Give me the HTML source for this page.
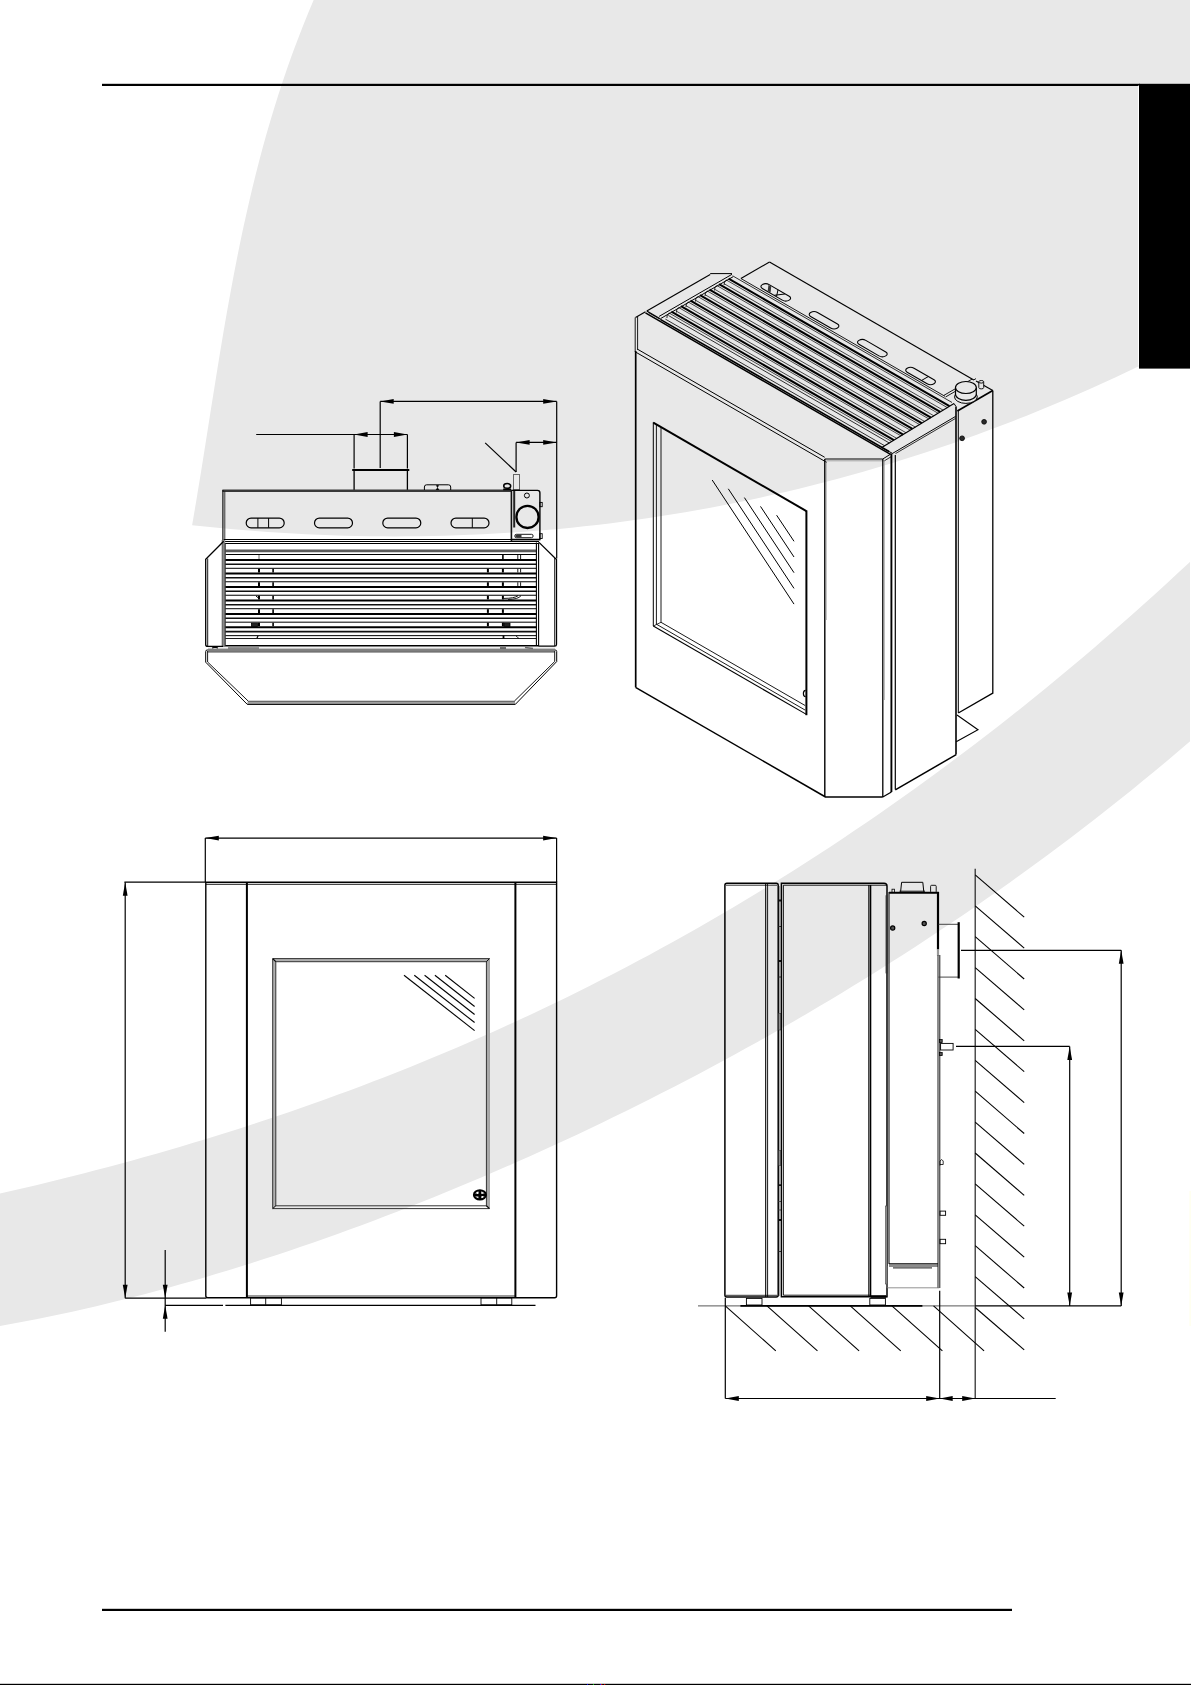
<!DOCTYPE html>
<html><head><meta charset="utf-8"><title>drawing</title>
<style>html,body{margin:0;padding:0;background:#fff;font-family:"Liberation Sans",sans-serif}svg{display:block}</style>
</head><body>
<svg width="1191" height="1685" viewBox="0 0 1191 1685">
<path d="M313.65 0 L307.99 13.46 L302.57 26.92 L297.35 40.38 L292.35 53.85 L287.56 67.31 L282.95 80.77 L278.54 94.23 L274.3 107.69 L270.24 121.15 L266.34 134.62 L262.6 148.08 L259.02 161.54 L255.57 175 L252.26 188.46 L249.08 201.92 L246.02 215.38 L243.08 228.85 L240.24 242.31 L237.5 255.77 L234.86 269.23 L232.29 282.69 L229.81 296.15 L227.39 309.62 L225.03 323.08 L222.73 336.54 L220.48 350 L218.27 363.46 L216.09 376.92 L213.94 390.38 L211.8 403.85 L209.67 417.31 L207.55 430.77 L205.42 444.23 L203.28 457.69 L201.13 471.15 L198.94 484.62 L196.72 498.08 L194.46 511.54 L192.16 525 L192.16 525.2 L204.8 526.52 L217.44 527.76 L230.09 528.92 L242.73 530 L255.37 531 L268.02 531.91 L280.66 532.74 L293.31 533.49 L305.95 534.15 L318.59 534.73 L331.24 535.22 L343.88 535.63 L356.52 535.94 L369.17 536.18 L381.81 536.32 L394.45 536.38 L407.1 536.35 L419.74 536.23 L432.38 536.02 L445.03 535.72 L457.67 535.33 L470.32 534.85 L482.96 534.27 L495.6 533.61 L508.25 532.85 L520.89 532 L533.53 531.05 L546.18 530.01 L558.82 528.88 L571.46 527.65 L584.11 526.33 L596.75 524.91 L609.39 523.39 L622.04 521.78 L634.68 520.06 L647.33 518.25 L659.97 516.34 L672.61 514.33 L685.26 512.22 L697.9 510.01 L710.54 507.7 L723.19 505.29 L735.83 502.78 L748.47 500.16 L761.12 497.44 L773.76 494.62 L786.41 491.7 L799.05 488.66 L811.69 485.53 L824.34 482.29 L836.98 478.94 L849.62 475.49 L862.27 471.92 L874.91 468.26 L887.55 464.48 L900.2 460.59 L912.84 456.6 L925.48 452.49 L938.13 448.28 L950.77 443.95 L963.42 439.52 L976.06 434.97 L988.7 430.31 L1001.35 425.53 L1013.99 420.65 L1026.63 415.65 L1039.28 410.53 L1051.92 405.3 L1064.56 399.96 L1077.21 394.5 L1089.85 388.92 L1102.49 383.22 L1115.14 377.41 L1127.78 371.48 L1140.43 365.44 L1153.07 359.27 L1165.71 352.98 L1178.36 346.57 L1191 340.05 L1191 0 Z" fill="#e8e8e8" stroke="none" stroke-width="0" stroke-linejoin="miter"/>
<path d="M0 1193.54 L12.03 1190.79 L24.06 1188 L36.09 1185.15 L48.12 1182.25 L60.15 1179.29 L72.18 1176.29 L84.21 1173.23 L96.24 1170.11 L108.27 1166.94 L120.3 1163.71 L132.33 1160.43 L144.36 1157.08 L156.39 1153.68 L168.42 1150.22 L180.45 1146.7 L192.48 1143.12 L204.52 1139.47 L216.55 1135.77 L228.58 1132 L240.61 1128.17 L252.64 1124.27 L264.67 1120.31 L276.7 1116.28 L288.73 1112.18 L300.76 1108.02 L312.79 1103.79 L324.82 1099.49 L336.85 1095.12 L348.88 1090.68 L360.91 1086.17 L372.94 1081.59 L384.97 1076.93 L397 1072.2 L409.03 1067.4 L421.06 1062.52 L433.09 1057.57 L445.12 1052.54 L457.15 1047.43 L469.18 1042.25 L481.21 1036.99 L493.24 1031.64 L505.27 1026.22 L517.3 1020.72 L529.33 1015.13 L541.36 1009.47 L553.39 1003.72 L565.42 997.88 L577.45 991.97 L589.48 985.96 L601.52 979.87 L613.55 973.7 L625.58 967.44 L637.61 961.08 L649.64 954.64 L661.67 948.11 L673.7 941.49 L685.73 934.78 L697.76 927.98 L709.79 921.09 L721.82 914.1 L733.85 907.01 L745.88 899.84 L757.91 892.56 L769.94 885.19 L781.97 877.73 L794 870.16 L806.03 862.5 L818.06 854.74 L830.09 846.88 L842.12 838.92 L854.15 830.85 L866.18 822.69 L878.21 814.42 L890.24 806.05 L902.27 797.57 L914.3 788.99 L926.33 780.3 L938.36 771.51 L950.39 762.61 L962.42 753.6 L974.45 744.48 L986.48 735.25 L998.52 725.91 L1010.55 716.46 L1022.58 706.9 L1034.61 697.23 L1046.64 687.44 L1058.67 677.54 L1070.7 667.53 L1082.73 657.4 L1094.76 647.15 L1106.79 636.79 L1118.82 626.31 L1130.85 615.71 L1142.88 604.99 L1154.91 594.15 L1166.94 583.19 L1178.97 572.11 L1191 560.91 L1191 740.6 L1178.97 750.86 L1166.94 760.99 L1154.91 770.99 L1142.88 780.87 L1130.85 790.63 L1118.82 800.27 L1106.79 809.79 L1094.76 819.19 L1082.73 828.47 L1070.7 837.65 L1058.67 846.71 L1046.64 855.66 L1034.61 864.51 L1022.58 873.24 L1010.55 881.88 L998.52 890.41 L986.48 898.84 L974.45 907.17 L962.42 915.41 L950.39 923.54 L938.36 931.58 L926.33 939.53 L914.3 947.39 L902.27 955.15 L890.24 962.83 L878.21 970.42 L866.18 977.91 L854.15 985.33 L842.12 992.66 L830.09 999.9 L818.06 1007.07 L806.03 1014.15 L794 1021.15 L781.97 1028.07 L769.94 1034.92 L757.91 1041.68 L745.88 1048.37 L733.85 1054.98 L721.82 1061.52 L709.79 1067.99 L697.76 1074.38 L685.73 1080.7 L673.7 1086.94 L661.67 1093.12 L649.64 1099.22 L637.61 1105.26 L625.58 1111.22 L613.55 1117.11 L601.52 1122.94 L589.48 1128.7 L577.45 1134.39 L565.42 1140.01 L553.39 1145.56 L541.36 1151.05 L529.33 1156.47 L517.3 1161.82 L505.27 1167.11 L493.24 1172.33 L481.21 1177.48 L469.18 1182.57 L457.15 1187.6 L445.12 1192.55 L433.09 1197.44 L421.06 1202.26 L409.03 1207.02 L397 1211.71 L384.97 1216.34 L372.94 1220.89 L360.91 1225.38 L348.88 1229.8 L336.85 1234.16 L324.82 1238.44 L312.79 1242.66 L300.76 1246.81 L288.73 1250.89 L276.7 1254.9 L264.67 1258.83 L252.64 1262.7 L240.61 1266.49 L228.58 1270.22 L216.55 1273.87 L204.52 1277.44 L192.48 1280.94 L180.45 1284.37 L168.42 1287.71 L156.39 1290.99 L144.36 1294.18 L132.33 1297.29 L120.3 1300.33 L108.27 1303.28 L96.24 1306.15 L84.21 1308.94 L72.18 1311.64 L60.15 1314.26 L48.12 1316.79 L36.09 1319.24 L24.06 1321.59 L12.03 1323.86 L0 1326.03 Z" fill="#e8e8e8" stroke="none" stroke-width="0" stroke-linejoin="miter"/>
<rect x="1190" y="0" width="1" height="1685" fill="#fff"/>
<rect x="1189.6" y="1191" width="1" height="135" fill="#ffffe6"/>
<rect x="102" y="83.8" width="1038" height="2.2" fill="#000"/>
<rect x="102" y="1608.8" width="910" height="2.2" fill="#000"/>
<rect x="1138" y="85.6" width="1.2" height="280" fill="#fff"/>
<rect x="1139" y="83.8" width="51" height="284.8" fill="#000"/>
<rect x="0" y="1683.8" width="1191" height="1.2" fill="#000"/>
<rect x="587" y="1684" width="1" height="1" fill="#00f"/>
<rect x="593" y="1684" width="1" height="1" fill="#0b0"/>
<rect x="600" y="1684" width="1" height="1" fill="#00f"/>
<rect x="601.2" y="1684" width="1" height="1" fill="#e00"/>
<rect x="604.2" y="1684" width="1" height="1" fill="#e00"/>
<line x1="380.2" y1="401.4" x2="556.7" y2="401.4" stroke="#000" stroke-width="1.2"/>
<path d="M380.2 401.4 L393.7 403.8 L393.7 399 Z" fill="#000"/>
<path d="M556.7 401.4 L543.2 399 L543.2 403.8 Z" fill="#000"/>
<line x1="380.2" y1="401.4" x2="380.2" y2="468" stroke="#000" stroke-width="1.2"/>
<line x1="556.7" y1="401.4" x2="556.7" y2="558.5" stroke="#000" stroke-width="1.2"/>
<line x1="256.2" y1="434.5" x2="407.4" y2="434.5" stroke="#000" stroke-width="1.2"/>
<path d="M354.1 434.5 L367.6 436.9 L367.6 432.1 Z" fill="#000"/>
<path d="M407.4 434.5 L393.9 432.1 L393.9 436.9 Z" fill="#000"/>
<line x1="354.1" y1="434.5" x2="354.1" y2="468.5" stroke="#000" stroke-width="1.2"/>
<line x1="407.4" y1="434.5" x2="407.4" y2="468.5" stroke="#000" stroke-width="1.2"/>
<line x1="516.1" y1="442.4" x2="556.7" y2="442.4" stroke="#000" stroke-width="1.2"/>
<path d="M516.1 442.4 L529.6 444.8 L529.6 440 Z" fill="#000"/>
<path d="M556.7 442.4 L543.2 440 L543.2 444.8 Z" fill="#000"/>
<line x1="516.1" y1="442.4" x2="516.1" y2="472" stroke="#000" stroke-width="1.2"/>
<line x1="485.2" y1="442.9" x2="516.1" y2="472" stroke="#000" stroke-width="1.2"/>
<line x1="352.2" y1="470" x2="409.3" y2="470" stroke="#000" stroke-width="2.2"/>
<line x1="354.1" y1="470" x2="354.1" y2="490" stroke="#000" stroke-width="1.3"/>
<line x1="407.4" y1="470" x2="407.4" y2="490" stroke="#000" stroke-width="1.3"/>
<line x1="222.4" y1="490.7" x2="511" y2="490.7" stroke="#383838" stroke-width="2.6"/>
<line x1="222.9" y1="490" x2="222.9" y2="540" stroke="#111" stroke-width="1.2"/>
<line x1="224.8" y1="491" x2="224.8" y2="540" stroke="#222" stroke-width="0.9"/>
<path d="M424.4 490 V487 Q424.4 484.8 426.6 484.8 H448.5 Q450.7 484.8 450.7 487 V490" fill="none" stroke="#000" stroke-width="1.0"/>
<path d="M436.6 485.5 L438.4 485.5 L437.5 487.5 Z M436 490 L437.5 488 L439 490" fill="#000" stroke="#000" stroke-width="0.8"/>
<ellipse cx="507.2" cy="485.9" rx="3.5" ry="2.3" fill="none" stroke="#000" stroke-width="1.5"/>
<line x1="503.2" y1="489.4" x2="511" y2="489.4" stroke="#000" stroke-width="1.8"/>
<rect x="513.4" y="474.6" width="6.2" height="15" rx="0" fill="none" stroke="#444" stroke-width="0.8"/>
<path d="M512 490.4 H537.5 Q539.9 490.4 539.9 492.8 V539.5 H512" fill="none" stroke="#000" stroke-width="1.4"/>
<line x1="511.4" y1="489.6" x2="511.4" y2="541" stroke="#111" stroke-width="1.6"/>
<line x1="514.2" y1="491" x2="514.2" y2="527.5" stroke="#222" stroke-width="2.0"/>
<circle cx="527.5" cy="516.9" r="11.1" fill="none" stroke="#000" stroke-width="2.3"/>
<circle cx="526.9" cy="495.5" r="2.5" fill="none" stroke="#000" stroke-width="1.0"/>
<rect x="539.9" y="502.4" width="2.3" height="4.3" rx="0" fill="none" stroke="#000" stroke-width="0.9"/>
<rect x="539.9" y="533.7" width="2.3" height="4.8" rx="0" fill="none" stroke="#000" stroke-width="0.9"/>
<rect x="514.8" y="534.3" width="18.3" height="3.4" rx="1.6" fill="none" stroke="#000" stroke-width="0.9"/>
<rect x="515.5" y="534.8" width="6" height="2.4" rx="0" fill="#333" stroke="none" stroke-width="0"/>
<line x1="512" y1="539.6" x2="540" y2="539.6" stroke="#000" stroke-width="1.2"/>
<rect x="246.2" y="518.1" width="38" height="9.7" rx="4.85" fill="none" stroke="#000" stroke-width="1.2"/>
<rect x="314.5" y="518.1" width="38" height="9.7" rx="4.85" fill="none" stroke="#000" stroke-width="1.2"/>
<rect x="382.8" y="518.1" width="38" height="9.7" rx="4.85" fill="none" stroke="#000" stroke-width="1.2"/>
<rect x="451" y="518.1" width="38" height="9.7" rx="4.85" fill="none" stroke="#000" stroke-width="1.2"/>
<line x1="257.9" y1="518.1" x2="257.9" y2="527.8" stroke="#000" stroke-width="1.0"/>
<line x1="268.6" y1="518.1" x2="268.6" y2="527.8" stroke="#000" stroke-width="1.0"/>
<line x1="472.3" y1="518.1" x2="472.3" y2="527.8" stroke="#000" stroke-width="1.0"/>
<line x1="223.7" y1="539.5" x2="539" y2="539.5" stroke="#000" stroke-width="1.0"/>
<line x1="223.7" y1="541.5" x2="539" y2="541.5" stroke="#000" stroke-width="1.0"/>
<line x1="223.7" y1="543.5" x2="539" y2="543.5" stroke="#000" stroke-width="1.0"/>
<line x1="225.5" y1="550.8" x2="536" y2="550.8" stroke="#595959" stroke-width="2.7"/>
<line x1="225.5" y1="554.5" x2="536" y2="554.5" stroke="#000" stroke-width="1.0"/>
<line x1="225.2" y1="560" x2="536.4" y2="560" stroke="#000" stroke-width="2.0"/>
<line x1="225.2" y1="564.3" x2="536.4" y2="564.3" stroke="#111" stroke-width="1.6"/>
<line x1="225.2" y1="568.3" x2="536.4" y2="568.3" stroke="#000" stroke-width="1.0"/>
<line x1="225.2" y1="573.47" x2="536.4" y2="573.47" stroke="#000" stroke-width="2.0"/>
<line x1="225.2" y1="577.77" x2="536.4" y2="577.77" stroke="#111" stroke-width="1.6"/>
<line x1="225.2" y1="581.77" x2="536.4" y2="581.77" stroke="#000" stroke-width="1.0"/>
<line x1="225.2" y1="586.94" x2="536.4" y2="586.94" stroke="#000" stroke-width="2.0"/>
<line x1="225.2" y1="591.24" x2="536.4" y2="591.24" stroke="#111" stroke-width="1.6"/>
<line x1="225.2" y1="595.24" x2="536.4" y2="595.24" stroke="#000" stroke-width="1.0"/>
<line x1="225.2" y1="600.41" x2="536.4" y2="600.41" stroke="#000" stroke-width="2.0"/>
<line x1="225.2" y1="604.71" x2="536.4" y2="604.71" stroke="#111" stroke-width="1.6"/>
<line x1="225.2" y1="608.71" x2="536.4" y2="608.71" stroke="#000" stroke-width="1.0"/>
<line x1="225.2" y1="613.88" x2="536.4" y2="613.88" stroke="#000" stroke-width="2.0"/>
<line x1="225.2" y1="618.18" x2="536.4" y2="618.18" stroke="#111" stroke-width="1.6"/>
<line x1="225.2" y1="622.18" x2="536.4" y2="622.18" stroke="#000" stroke-width="1.0"/>
<line x1="225.2" y1="627.35" x2="536.4" y2="627.35" stroke="#000" stroke-width="2.0"/>
<line x1="225.2" y1="631.65" x2="536.4" y2="631.65" stroke="#111" stroke-width="1.6"/>
<line x1="225.2" y1="635.65" x2="536.4" y2="635.65" stroke="#000" stroke-width="1.0"/>
<line x1="225.2" y1="638.5" x2="536.4" y2="638.5" stroke="#000" stroke-width="0.9"/>
<line x1="223" y1="645.8" x2="539" y2="645.8" stroke="#000" stroke-width="1.6"/>
<line x1="208" y1="648.3" x2="555" y2="648.3" stroke="#888" stroke-width="0.6"/>
<rect x="222.2" y="540" width="3" height="106" rx="0" fill="#8a8a8a" stroke="none" stroke-width="0"/>
<line x1="222.2" y1="540" x2="222.2" y2="646" stroke="#444" stroke-width="0.8"/>
<line x1="225.2" y1="543" x2="225.2" y2="646" stroke="#222" stroke-width="1.0"/>
<line x1="536.4" y1="542.4" x2="536.4" y2="646" stroke="#000" stroke-width="1.1"/>
<line x1="538.6" y1="542.4" x2="538.6" y2="646" stroke="#000" stroke-width="1.1"/>
<line x1="259" y1="555" x2="259" y2="559" stroke="#555" stroke-width="0.9"/>
<line x1="502.9" y1="555" x2="502.9" y2="559" stroke="#000" stroke-width="1.6"/>
<line x1="517.8" y1="555" x2="517.8" y2="559" stroke="#000" stroke-width="0.9"/>
<line x1="520.6" y1="555" x2="520.6" y2="559" stroke="#000" stroke-width="0.9"/>
<line x1="259" y1="568.8" x2="259" y2="572.47" stroke="#000" stroke-width="2.0"/>
<line x1="273.1" y1="568.8" x2="273.1" y2="572.47" stroke="#000" stroke-width="1.6"/>
<line x1="487.9" y1="568.8" x2="487.9" y2="572.47" stroke="#000" stroke-width="2.0"/>
<line x1="502.9" y1="568.8" x2="502.9" y2="572.47" stroke="#000" stroke-width="2.0"/>
<line x1="517.8" y1="568.8" x2="517.8" y2="572.47" stroke="#000" stroke-width="0.9"/>
<line x1="520.6" y1="568.8" x2="520.6" y2="572.47" stroke="#000" stroke-width="0.9"/>
<line x1="259" y1="582.27" x2="259" y2="585.94" stroke="#000" stroke-width="2.0"/>
<line x1="273.1" y1="582.27" x2="273.1" y2="585.94" stroke="#000" stroke-width="1.6"/>
<line x1="487.9" y1="582.27" x2="487.9" y2="585.94" stroke="#000" stroke-width="2.0"/>
<line x1="502.9" y1="582.27" x2="502.9" y2="585.94" stroke="#000" stroke-width="2.0"/>
<line x1="517.8" y1="582.27" x2="517.8" y2="585.94" stroke="#000" stroke-width="0.9"/>
<line x1="520.6" y1="582.27" x2="520.6" y2="585.94" stroke="#000" stroke-width="0.9"/>
<line x1="259" y1="595.74" x2="259" y2="599.41" stroke="#000" stroke-width="2.0"/>
<line x1="273.1" y1="595.74" x2="273.1" y2="599.41" stroke="#000" stroke-width="1.6"/>
<line x1="487.9" y1="595.74" x2="487.9" y2="599.41" stroke="#000" stroke-width="2.0"/>
<line x1="502.9" y1="595.74" x2="502.9" y2="599.41" stroke="#000" stroke-width="2.0"/>
<line x1="259" y1="609.21" x2="259" y2="612.88" stroke="#000" stroke-width="2.0"/>
<line x1="273.1" y1="609.21" x2="273.1" y2="612.88" stroke="#000" stroke-width="1.6"/>
<line x1="487.9" y1="609.21" x2="487.9" y2="612.88" stroke="#000" stroke-width="2.0"/>
<line x1="502.9" y1="609.21" x2="502.9" y2="612.88" stroke="#000" stroke-width="2.0"/>
<line x1="259" y1="622.68" x2="259" y2="626.35" stroke="#000" stroke-width="2.0"/>
<line x1="273.1" y1="622.68" x2="273.1" y2="626.35" stroke="#000" stroke-width="1.6"/>
<line x1="487.9" y1="622.68" x2="487.9" y2="626.35" stroke="#000" stroke-width="2.0"/>
<line x1="502.9" y1="622.68" x2="502.9" y2="626.35" stroke="#000" stroke-width="2.0"/>
<rect x="251.5" y="623.2" width="6" height="3.2" rx="0" fill="#222" stroke="#000" stroke-width="0.8"/>
<rect x="504" y="623.2" width="6" height="3.2" rx="0" fill="#222" stroke="#000" stroke-width="0.8"/>
<path d="M504 598.4100000000001 Q514 598.4100000000001 518 595.74 M508 599.4100000000001 Q518 599.4100000000001 521 595.74" fill="none" stroke="#000" stroke-width="0.9"/>
<line x1="256" y1="596" x2="258.5" y2="598" stroke="#000" stroke-width="1.0"/>
<line x1="257" y1="638" x2="258" y2="636" stroke="#000" stroke-width="1.2"/>
<line x1="503.5" y1="635.5" x2="503.5" y2="638.5" stroke="#000" stroke-width="1.8"/>
<line x1="516" y1="636" x2="519" y2="638.5" stroke="#000" stroke-width="0.8"/>
<path d="M223.7 541.3 L205.7 559.2 V644.4 Q205.7 646.4 207.7 646.4 H223" fill="none" stroke="#000" stroke-width="1.3"/>
<line x1="207.7" y1="558.5" x2="207.7" y2="646" stroke="#000" stroke-width="0.9"/>
<path d="M539 542.4 L556.5 559.5 V644.4 Q556.5 646.2 554.7 646.2 H538.6" fill="none" stroke="#000" stroke-width="1.3"/>
<line x1="554.7" y1="558" x2="554.7" y2="646" stroke="#000" stroke-width="0.9"/>
<path d="M247.9 701 L514.7 701 L515.6 704.6 L247 704.6 Z" fill="#a0a0a0" stroke="none" stroke-width="0" stroke-linejoin="miter"/>
<path d="M207.2 650 H555.2 Q556.7 650 556.7 651.5 V661.6 L515.3 704.4 H247.3 L205.7 662.2 V651.5 Q205.7 650 207.2 650 Z" fill="none" stroke="#000" stroke-width="1.0"/>
<line x1="207.6" y1="651.9" x2="554.7" y2="651.9" stroke="#000" stroke-width="0.9"/>
<line x1="207.6" y1="651" x2="207.6" y2="662" stroke="#000" stroke-width="0.9"/>
<line x1="554.7" y1="651" x2="554.7" y2="661.5" stroke="#000" stroke-width="0.9"/>
<line x1="207.6" y1="662" x2="248.3" y2="701.2" stroke="#000" stroke-width="0.9"/>
<line x1="554.7" y1="661.5" x2="514.3" y2="701.2" stroke="#000" stroke-width="0.9"/>
<line x1="248.3" y1="701.2" x2="514.3" y2="701.2" stroke="#333" stroke-width="0.7"/>
<line x1="212" y1="648" x2="218" y2="646.5" stroke="#000" stroke-width="1.2"/>
<line x1="212" y1="646.5" x2="218" y2="648" stroke="#000" stroke-width="1.2"/>
<line x1="228" y1="648" x2="259" y2="648" stroke="#555" stroke-width="1.2"/>
<line x1="500" y1="648" x2="506" y2="648" stroke="#444" stroke-width="1.5"/>
<line x1="525" y1="647.5" x2="533" y2="648.5" stroke="#666" stroke-width="1.5"/>
<line x1="635.2" y1="317.5" x2="635.2" y2="352" stroke="#000" stroke-width="0.9"/>
<line x1="635.7" y1="351" x2="635.7" y2="687.3" stroke="#000" stroke-width="1.7"/>
<line x1="637.6" y1="316.3" x2="637.6" y2="350" stroke="#000" stroke-width="0.9"/>
<line x1="635.5" y1="317.5" x2="645.5" y2="311.8" stroke="#000" stroke-width="1.2"/>
<line x1="635.5" y1="687.3" x2="825.1" y2="796.77" stroke="#000" stroke-width="1.5"/>
<line x1="637.5" y1="349.2" x2="824.7" y2="457.28" stroke="#000" stroke-width="1.0"/>
<line x1="635.7" y1="352.1" x2="826.9" y2="462.49" stroke="#000" stroke-width="1.0"/>
<line x1="824.8" y1="458.9" x2="824.8" y2="797" stroke="#000" stroke-width="1.4"/>
<line x1="826.3" y1="461" x2="826.3" y2="620" stroke="#999" stroke-width="0.7"/>
<line x1="824.8" y1="459" x2="882.8" y2="459" stroke="#000" stroke-width="1.2"/>
<line x1="826.3" y1="460.8" x2="884" y2="460.8" stroke="#888" stroke-width="0.7"/>
<line x1="882.8" y1="459" x2="882.8" y2="797" stroke="#000" stroke-width="1.3"/>
<line x1="884.4" y1="460.5" x2="884.4" y2="700" stroke="#999" stroke-width="0.7"/>
<line x1="824.8" y1="797" x2="882.8" y2="797" stroke="#000" stroke-width="1.5"/>
<line x1="882.8" y1="459" x2="890.8" y2="454" stroke="#000" stroke-width="1.0"/>
<line x1="884.4" y1="460.8" x2="891" y2="456.8" stroke="#000" stroke-width="0.8"/>
<line x1="882.8" y1="797" x2="891.4" y2="792" stroke="#000" stroke-width="1.3"/>
<line x1="891.4" y1="453.5" x2="891.4" y2="792" stroke="#000" stroke-width="1.9"/>
<line x1="895.3" y1="455" x2="895.3" y2="789.6" stroke="#000" stroke-width="1.2"/>
<line x1="895.3" y1="789.8" x2="956.2" y2="754.64" stroke="#000" stroke-width="1.5"/>
<line x1="956" y1="406.8" x2="956" y2="754.6" stroke="#000" stroke-width="1.6"/>
<line x1="958.3" y1="409.8" x2="958.3" y2="713" stroke="#000" stroke-width="1.0"/>
<line x1="992.8" y1="390.6" x2="992.8" y2="693.8" stroke="#000" stroke-width="1.3"/>
<line x1="958.3" y1="713" x2="992.8" y2="693.08" stroke="#000" stroke-width="1.3"/>
<line x1="957.4" y1="410.9" x2="992.8" y2="390.46" stroke="#000" stroke-width="1.7"/>
<path d="M957 715 L978 729.8 L956.2 741.8" fill="none" stroke="#000" stroke-width="1.1" stroke-linejoin="miter"/>
<circle cx="984.1" cy="421.8" r="2.4" fill="#2a2a2a" stroke="#000" stroke-width="0.8"/>
<circle cx="962.1" cy="438.3" r="2.4" fill="#2a2a2a" stroke="#000" stroke-width="0.8"/>
<line x1="653.3" y1="422.7" x2="806.4" y2="511.09" stroke="#000" stroke-width="2.0"/>
<line x1="806.4" y1="510.4" x2="806.4" y2="715.2" stroke="#000" stroke-width="2.0"/>
<line x1="653.3" y1="422.2" x2="653.3" y2="626" stroke="#000" stroke-width="1.0"/>
<line x1="656.4" y1="424.8" x2="656.4" y2="624.2" stroke="#000" stroke-width="0.9"/>
<line x1="661" y1="427.3" x2="661" y2="622.3" stroke="#000" stroke-width="0.9"/>
<line x1="653.3" y1="626" x2="806.4" y2="714.39" stroke="#000" stroke-width="1.1"/>
<line x1="656.4" y1="624.2" x2="805.2" y2="710.11" stroke="#000" stroke-width="0.9"/>
<line x1="661" y1="622.3" x2="805.2" y2="705.55" stroke="#000" stroke-width="0.9"/>
<line x1="653.3" y1="626" x2="661" y2="622.3" stroke="#000" stroke-width="0.8"/>
<line x1="712.2" y1="480" x2="794" y2="604.1" stroke="#000" stroke-width="1.0"/>
<line x1="728.3" y1="488.8" x2="794" y2="588.4" stroke="#000" stroke-width="1.0"/>
<line x1="744.4" y1="497.6" x2="794" y2="572.7" stroke="#000" stroke-width="1.0"/>
<line x1="760.5" y1="506.4" x2="794" y2="557" stroke="#000" stroke-width="1.0"/>
<line x1="776.6" y1="515.2" x2="794" y2="541.3" stroke="#000" stroke-width="1.0"/>
<path d="M805.6 690.3 A2.2 3.2 0 0 0 805.6 696.7" fill="none" stroke="#000" stroke-width="1.2"/>
<line x1="646.8" y1="311" x2="710.2" y2="274.4" stroke="#000" stroke-width="1.2"/>
<line x1="710.2" y1="273.6" x2="732" y2="273.6" stroke="#000" stroke-width="1.0"/>
<line x1="659.1" y1="316.4" x2="732" y2="274.31" stroke="#000" stroke-width="1.0"/>
<line x1="660.9" y1="318.4" x2="733" y2="276.77" stroke="#000" stroke-width="1.0"/>
<line x1="646.8" y1="311" x2="660.5" y2="318.91" stroke="#000" stroke-width="1.2"/>
<line x1="648.5" y1="312.6" x2="659.3" y2="318.84" stroke="#000" stroke-width="0.8"/>
<line x1="645.5" y1="312.9" x2="890.5" y2="454.35" stroke="#000" stroke-width="1.5"/>
<line x1="660.3" y1="319.4" x2="889" y2="451.44" stroke="#000" stroke-width="1.6"/>
<line x1="740.9" y1="278.5" x2="769.5" y2="261.99" stroke="#000" stroke-width="1.2"/>
<line x1="769.5" y1="262" x2="973.8" y2="379.95" stroke="#000" stroke-width="1.2"/>
<line x1="973.8" y1="379.9" x2="976" y2="378.6" stroke="#000" stroke-width="0.9"/>
<line x1="976" y1="380.9" x2="992.8" y2="390.6" stroke="#000" stroke-width="1.1"/>
<line x1="740.9" y1="278.5" x2="945" y2="396.34" stroke="#000" stroke-width="0.9"/>
<line x1="732.6" y1="275.8" x2="952" y2="402.47" stroke="#000" stroke-width="0.8"/>
<line x1="944" y1="395.3" x2="972" y2="379.13" stroke="#000" stroke-width="0.9"/>
<line x1="945.5" y1="397" x2="956" y2="390.94" stroke="#000" stroke-width="0.9"/>
<line x1="671.4" y1="311.7" x2="893.94" y2="440.18" stroke="#000" stroke-width="2.0"/>
<line x1="669.4" y1="313.15" x2="891.75" y2="441.52" stroke="#000" stroke-width="0.7"/>
<line x1="668.4" y1="315.47" x2="889.31" y2="443.01" stroke="#000" stroke-width="0.8"/>
<line x1="665.4" y1="319.14" x2="884.77" y2="445.79" stroke="#000" stroke-width="0.8"/>
<path d="M669.4 313.05 q-3 1 -2.5 5" fill="none" stroke="#000" stroke-width="0.8"/>
<line x1="680.93" y1="306.2" x2="903.2" y2="434.53" stroke="#000" stroke-width="2.0"/>
<line x1="678.93" y1="307.65" x2="901.01" y2="435.86" stroke="#000" stroke-width="0.7"/>
<line x1="676.43" y1="311.2" x2="896.8" y2="438.43" stroke="#000" stroke-width="0.7"/>
<path d="M678.93 307.55 q-3 1 -2.5 5" fill="none" stroke="#000" stroke-width="0.8"/>
<line x1="690.46" y1="300.7" x2="912.46" y2="428.87" stroke="#000" stroke-width="2.0"/>
<line x1="688.46" y1="302.15" x2="910.27" y2="430.21" stroke="#000" stroke-width="0.7"/>
<line x1="685.96" y1="305.7" x2="906.06" y2="432.78" stroke="#000" stroke-width="0.7"/>
<path d="M688.46 302.05 q-3 1 -2.5 5" fill="none" stroke="#000" stroke-width="0.8"/>
<line x1="699.99" y1="295.2" x2="921.71" y2="423.21" stroke="#000" stroke-width="2.0"/>
<line x1="697.99" y1="296.65" x2="919.53" y2="424.55" stroke="#000" stroke-width="0.7"/>
<line x1="695.49" y1="300.2" x2="915.32" y2="427.12" stroke="#000" stroke-width="0.7"/>
<path d="M697.99 296.55 q-3 1 -2.5 5" fill="none" stroke="#000" stroke-width="0.8"/>
<line x1="709.52" y1="289.7" x2="930.97" y2="417.56" stroke="#000" stroke-width="2.0"/>
<line x1="707.52" y1="291.15" x2="928.78" y2="418.89" stroke="#000" stroke-width="0.7"/>
<line x1="705.02" y1="294.7" x2="924.58" y2="421.46" stroke="#000" stroke-width="0.7"/>
<path d="M707.52 291.05 q-3 1 -2.5 5" fill="none" stroke="#000" stroke-width="0.8"/>
<line x1="719.05" y1="284.2" x2="940.23" y2="411.9" stroke="#000" stroke-width="2.0"/>
<line x1="717.05" y1="285.65" x2="938.04" y2="413.24" stroke="#000" stroke-width="0.7"/>
<line x1="714.55" y1="289.2" x2="933.84" y2="415.81" stroke="#000" stroke-width="0.7"/>
<path d="M717.05 285.55 q-3 1 -2.5 5" fill="none" stroke="#000" stroke-width="0.8"/>
<line x1="728.58" y1="278.7" x2="949.49" y2="406.24" stroke="#000" stroke-width="2.0"/>
<line x1="726.58" y1="280.15" x2="947.3" y2="407.58" stroke="#000" stroke-width="0.7"/>
<line x1="724.08" y1="283.7" x2="943.09" y2="410.15" stroke="#000" stroke-width="0.7"/>
<path d="M726.58 280.05 q-3 1 -2.5 5" fill="none" stroke="#000" stroke-width="0.8"/>
<rect transform="matrix(0.7071 0.4082 -0.7071 0.4082 769.5 262.1)" x="22.5" y="27.8" width="38" height="9.7" rx="4.85" fill="none" stroke="#000" stroke-width="1.1" vector-effect="non-scaling-stroke"/>
<rect transform="matrix(0.7071 0.4082 -0.7071 0.4082 769.5 262.1)" x="90.8" y="27.8" width="38" height="9.7" rx="4.85" fill="none" stroke="#000" stroke-width="1.1" vector-effect="non-scaling-stroke"/>
<rect transform="matrix(0.7071 0.4082 -0.7071 0.4082 769.5 262.1)" x="159.1" y="27.8" width="38" height="9.7" rx="4.85" fill="none" stroke="#000" stroke-width="1.1" vector-effect="non-scaling-stroke"/>
<rect transform="matrix(0.7071 0.4082 -0.7071 0.4082 769.5 262.1)" x="227.3" y="27.8" width="38" height="9.7" rx="4.85" fill="none" stroke="#000" stroke-width="1.1" vector-effect="non-scaling-stroke"/>
<path transform="matrix(0.7071 0.4082 -0.7071 0.4082 769.5 262.1)" d="M252.5 27.8 V37.5" fill="none" stroke="#000" stroke-width="1" vector-effect="non-scaling-stroke"/>
<path transform="matrix(0.7071 0.4082 -0.7071 0.4082 769.5 262.1)" d="M27 28.5 L34 36.5 L38 36.5 L31 28.5 Z" fill="#333" stroke="none"/>
<path transform="matrix(0.7071 0.4082 -0.7071 0.4082 769.5 262.1)" d="M40 28 L47 37 M44 37.3 L50 28.2" fill="none" stroke="#000" stroke-width="1" vector-effect="non-scaling-stroke"/>
<line x1="881.8" y1="447.6" x2="954" y2="403.5" stroke="#000" stroke-width="1.2"/>
<line x1="892.9" y1="453.2" x2="955.6" y2="416.4" stroke="#000" stroke-width="1.0"/>
<line x1="895.5" y1="453.6" x2="955.6" y2="418.4" stroke="#000" stroke-width="0.8"/>
<line x1="881.8" y1="447.6" x2="892.9" y2="453.6" stroke="#000" stroke-width="1.0"/>
<line x1="954" y1="403.5" x2="956.2" y2="406.8" stroke="#000" stroke-width="1.0"/>
<ellipse cx="965.9" cy="396.8" rx="11.4" ry="6.6" fill="#e8e8e8" stroke="#000" stroke-width="1.0"/>
<path d="M955.5 387.5 V394.3 A10.4 6 0 0 0 976.3 394.3 V387.5" fill="#e8e8e8" stroke="#000" stroke-width="1.2"/>
<ellipse cx="965.9" cy="387.5" rx="10.4" ry="6" fill="#e8e8e8" stroke="#000" stroke-width="1.2"/>
<path d="M978.8 381.8 V387.6 A2.45 1.3 0 0 0 983.7 387.6 V381.8" fill="#e8e8e8" stroke="#000" stroke-width="0.9"/>
<ellipse cx="981.25" cy="381.8" rx="2.45" ry="1.3" fill="#e8e8e8" stroke="#000" stroke-width="0.9"/>
<line x1="205.3" y1="838.1" x2="556.6" y2="838.1" stroke="#000" stroke-width="1.2"/>
<path d="M205.3 838.1 L218.8 840.5 L218.8 835.7 Z" fill="#000"/>
<path d="M556.6 838.1 L543.1 835.7 L543.1 840.5 Z" fill="#000"/>
<line x1="205.3" y1="838.1" x2="205.3" y2="882" stroke="#000" stroke-width="1.2"/>
<line x1="556.6" y1="838.1" x2="556.6" y2="882" stroke="#000" stroke-width="1.2"/>
<line x1="124.4" y1="882.2" x2="205.8" y2="882.2" stroke="#000" stroke-width="1.2"/>
<line x1="125.2" y1="882.2" x2="125.2" y2="1298.2" stroke="#000" stroke-width="1.2"/>
<path d="M125.2 882.2 L122.8 895.7 L127.6 895.7 Z" fill="#000"/>
<path d="M125.2 1298.2 L127.6 1284.7 L122.8 1284.7 Z" fill="#000"/>
<line x1="125.2" y1="1298.2" x2="206.5" y2="1298.2" stroke="#000" stroke-width="1.2"/>
<line x1="165.2" y1="1250" x2="165.2" y2="1331.7" stroke="#000" stroke-width="1.2"/>
<path d="M165.2 1298.2 L167.6 1284.7 L162.8 1284.7 Z" fill="#000"/>
<path d="M165.2 1305.3 L162.8 1318.8 L167.6 1318.8 Z" fill="#000"/>
<line x1="165.2" y1="1305.3" x2="223" y2="1305.3" stroke="#000" stroke-width="1.2"/>
<line x1="225.4" y1="1305.3" x2="535.5" y2="1305.3" stroke="#000" stroke-width="1.2"/>
<path d="M205.8 882.2 H556.6 V1295.7 Q556.6 1297.7 554.6 1297.7 H207.8 Q205.8 1297.7 205.8 1295.7 Z" fill="none" stroke="#000" stroke-width="1.4"/>
<line x1="206" y1="884.3" x2="556.4" y2="884.3" stroke="#000" stroke-width="0.9"/>
<line x1="246.9" y1="883" x2="246.9" y2="1297.7" stroke="#000" stroke-width="2.0"/>
<line x1="515.4" y1="883" x2="515.4" y2="1297.7" stroke="#000" stroke-width="2.0"/>
<line x1="247" y1="1296" x2="515.4" y2="1296" stroke="#000" stroke-width="0.8"/>
<rect x="250.6" y="1297.9" width="30.8" height="6.9" rx="0" fill="none" stroke="#000" stroke-width="0.9"/>
<line x1="265.7" y1="1298" x2="265.7" y2="1304.8" stroke="#000" stroke-width="0.9"/>
<rect x="481" y="1297.9" width="30.8" height="6.9" rx="0" fill="none" stroke="#000" stroke-width="0.9"/>
<line x1="496.7" y1="1298" x2="496.7" y2="1304.8" stroke="#000" stroke-width="0.9"/>
<path d="M272.7 958.6 L489.5 958.6 L486.4 961.7 L275.8 961.7 Z" fill="#b0b0b0" stroke="none" stroke-width="0" stroke-linejoin="miter"/>
<path d="M272.7 958.6 L275.8 961.7 L275.8 1205.8 L272.7 1208.6 Z" fill="#b0b0b0" stroke="none" stroke-width="0" stroke-linejoin="miter"/>
<path d="M489.5 958.6 L486.4 961.7 L486.4 1205.8 L489.5 1208.6 Z" fill="#a8a8a8" stroke="none" stroke-width="0" stroke-linejoin="miter"/>
<path d="M489.5 958.6 H272.7 V1208.6 H489.5" fill="none" stroke="#333" stroke-width="1.0"/>
<line x1="489.5" y1="958.6" x2="489.5" y2="1208.6" stroke="#999" stroke-width="0.8"/>
<rect x="275.8" y="961.7" width="210.6" height="244.1" rx="0" fill="none" stroke="#333" stroke-width="1.0"/>
<line x1="272.7" y1="958.6" x2="275.8" y2="961.7" stroke="#000" stroke-width="1.2"/>
<line x1="489.5" y1="1208.6" x2="486.4" y2="1205.8" stroke="#000" stroke-width="1.2"/>
<line x1="489.5" y1="958.6" x2="486.4" y2="961.7" stroke="#000" stroke-width="1.0"/>
<line x1="272.7" y1="1208.6" x2="275.8" y2="1205.8" stroke="#000" stroke-width="1.0"/>
<line x1="404" y1="975.2" x2="474.6" y2="1030.6" stroke="#000" stroke-width="1.1"/>
<line x1="414.3" y1="975.2" x2="474.6" y2="1022.55" stroke="#000" stroke-width="1.1"/>
<line x1="424.6" y1="975.2" x2="474.6" y2="1014.5" stroke="#000" stroke-width="1.1"/>
<line x1="434.9" y1="975.2" x2="474.6" y2="1006.45" stroke="#000" stroke-width="1.1"/>
<line x1="445.2" y1="975.2" x2="474.6" y2="998.4" stroke="#000" stroke-width="1.1"/>
<ellipse cx="479.9" cy="1194.9" rx="6" ry="4.6" fill="#fff" stroke="#000" stroke-width="2.0"/>
<path d="M474.5 1194.9 H485.3 M479.9 1190.5 V1199.3" fill="none" stroke="#000" stroke-width="3.0"/>
<circle cx="477.6" cy="1193" r="0.9" fill="#fff" stroke="none" stroke-width="0"/>
<circle cx="482.4" cy="1196.8" r="0.9" fill="#fff" stroke="none" stroke-width="0"/>
<circle cx="482.2" cy="1192.9" r="1" fill="#ddd" stroke="none" stroke-width="0"/>
<line x1="975.2" y1="868.8" x2="975.2" y2="1398.5" stroke="#222" stroke-width="1.2"/>
<line x1="975.2" y1="874.9" x2="1024.2" y2="917.2" stroke="#000" stroke-width="1.1"/>
<line x1="975.2" y1="905.8" x2="1024.2" y2="948.1" stroke="#000" stroke-width="1.1"/>
<line x1="975.2" y1="936.7" x2="1024.2" y2="979" stroke="#000" stroke-width="1.1"/>
<line x1="975.2" y1="967.6" x2="1024.2" y2="1009.9" stroke="#000" stroke-width="1.1"/>
<line x1="975.2" y1="998.5" x2="1024.2" y2="1040.8" stroke="#000" stroke-width="1.1"/>
<line x1="975.2" y1="1029.4" x2="1024.2" y2="1071.7" stroke="#000" stroke-width="1.1"/>
<line x1="975.2" y1="1060.3" x2="1024.2" y2="1102.6" stroke="#000" stroke-width="1.1"/>
<line x1="975.2" y1="1091.2" x2="1024.2" y2="1133.5" stroke="#000" stroke-width="1.1"/>
<line x1="975.2" y1="1122.1" x2="1024.2" y2="1164.4" stroke="#000" stroke-width="1.1"/>
<line x1="975.2" y1="1153" x2="1024.2" y2="1195.3" stroke="#000" stroke-width="1.1"/>
<line x1="975.2" y1="1183.9" x2="1024.2" y2="1226.2" stroke="#000" stroke-width="1.1"/>
<line x1="975.2" y1="1214.8" x2="1024.2" y2="1257.1" stroke="#000" stroke-width="1.1"/>
<line x1="975.2" y1="1245.7" x2="1024.2" y2="1288" stroke="#000" stroke-width="1.1"/>
<line x1="975.2" y1="1276.6" x2="1024.2" y2="1318.9" stroke="#000" stroke-width="1.1"/>
<line x1="975.2" y1="1307.5" x2="1024.2" y2="1349.8" stroke="#000" stroke-width="1.1"/>
<line x1="698" y1="1305.9" x2="975.2" y2="1305.9" stroke="#444" stroke-width="0.9"/>
<line x1="740.4" y1="1305.9" x2="922.4" y2="1305.9" stroke="#000" stroke-width="1.6"/>
<line x1="975.2" y1="1305.9" x2="1121.2" y2="1305.9" stroke="#000" stroke-width="1.2"/>
<line x1="725.3" y1="1305.9" x2="775.8" y2="1350.9" stroke="#000" stroke-width="1.1"/>
<line x1="766.95" y1="1305.9" x2="817.45" y2="1350.9" stroke="#000" stroke-width="1.1"/>
<line x1="808.6" y1="1305.9" x2="859.1" y2="1350.9" stroke="#000" stroke-width="1.1"/>
<line x1="850.25" y1="1305.9" x2="900.75" y2="1350.9" stroke="#000" stroke-width="1.1"/>
<line x1="891.9" y1="1305.9" x2="942.4" y2="1350.9" stroke="#000" stroke-width="1.1"/>
<line x1="933.55" y1="1305.9" x2="984.05" y2="1350.9" stroke="#000" stroke-width="1.1"/>
<line x1="725.3" y1="1297.7" x2="725.3" y2="1398.5" stroke="#000" stroke-width="1.2"/>
<line x1="939.7" y1="1290.8" x2="939.7" y2="1398.5" stroke="#000" stroke-width="1.2"/>
<line x1="725.3" y1="1398.5" x2="1055.7" y2="1398.5" stroke="#000" stroke-width="1.2"/>
<path d="M725.3 1398.5 L738.8 1400.9 L738.8 1396.1 Z" fill="#000"/>
<path d="M939.7 1398.5 L926.2 1396.1 L926.2 1400.9 Z" fill="#000"/>
<path d="M939.7 1398.5 L952.7 1400.9 L952.7 1396.1 Z" fill="#000"/>
<path d="M975.2 1398.5 L962.2 1396.1 L962.2 1400.9 Z" fill="#000"/>
<line x1="961" y1="950.3" x2="1121.2" y2="950.3" stroke="#000" stroke-width="1.2"/>
<line x1="1121.2" y1="950.3" x2="1121.2" y2="1305.9" stroke="#000" stroke-width="1.2"/>
<path d="M1121.2 950.3 L1118.8 963.8 L1123.6 963.8 Z" fill="#000"/>
<path d="M1121.2 1305.9 L1123.6 1292.4 L1118.8 1292.4 Z" fill="#000"/>
<line x1="956" y1="1046.4" x2="1069.7" y2="1046.4" stroke="#000" stroke-width="1.2"/>
<line x1="1069.7" y1="1046.4" x2="1069.7" y2="1305.9" stroke="#000" stroke-width="1.2"/>
<path d="M1069.7 1046.4 L1067.3 1059.9 L1072.1 1059.9 Z" fill="#000"/>
<path d="M1069.7 1305.9 L1072.1 1292.4 L1067.3 1292.4 Z" fill="#000"/>
<path d="M724.9 1295 V885.2 Q724.9 883.2 726.9 883.2 H776.2 Q778.2 883.2 778.2 885.2 V1295 Q778.2 1297 776.2 1297 H726.9 Q724.9 1297 724.9 1295 Z" fill="none" stroke="#000" stroke-width="1.5"/>
<line x1="726" y1="885.2" x2="777" y2="885.2" stroke="#000" stroke-width="0.8"/>
<line x1="765.7" y1="884" x2="765.7" y2="1297" stroke="#000" stroke-width="1.1"/>
<line x1="767.6" y1="884" x2="767.6" y2="1297" stroke="#000" stroke-width="0.9"/>
<line x1="726" y1="1295.3" x2="777" y2="1295.3" stroke="#000" stroke-width="0.8"/>
<line x1="779.6" y1="886" x2="779.6" y2="1296" stroke="#777" stroke-width="0.7"/>
<rect x="778.6" y="899.5" width="2.4" height="2" rx="0" fill="#111" stroke="none" stroke-width="0"/>
<rect x="778.6" y="926" width="2.4" height="1" rx="0" fill="#333" stroke="none" stroke-width="0"/>
<rect x="778.6" y="960" width="2.4" height="2" rx="0" fill="#111" stroke="none" stroke-width="0"/>
<rect x="778.6" y="976.5" width="2.4" height="1" rx="0" fill="#333" stroke="none" stroke-width="0"/>
<rect x="778.6" y="1184.3" width="2.4" height="1.7" rx="0" fill="#111" stroke="none" stroke-width="0"/>
<rect x="778.6" y="1219" width="2.4" height="2" rx="0" fill="#111" stroke="none" stroke-width="0"/>
<rect x="778.6" y="1201" width="2.4" height="1" rx="0" fill="#555" stroke="none" stroke-width="0"/>
<rect x="778.6" y="1209.5" width="2.4" height="1" rx="0" fill="#555" stroke="none" stroke-width="0"/>
<rect x="778.6" y="1251" width="2.4" height="1" rx="0" fill="#333" stroke="none" stroke-width="0"/>
<rect x="778.8" y="1013.5" width="2.2" height="16.5" rx="0" fill="#999" stroke="#444" stroke-width="0.6"/>
<rect x="778.8" y="1150.5" width="2.2" height="15" rx="0" fill="#999" stroke="#444" stroke-width="0.6"/>
<path d="M781.4 1296.8 V883.2 H884 Q887 883.2 887 886.2 V1296.8 Z" fill="none" stroke="#000" stroke-width="1.5"/>
<line x1="783.4" y1="885.2" x2="783.4" y2="1295.2" stroke="#000" stroke-width="0.9"/>
<line x1="783.4" y1="885.2" x2="886" y2="885.2" stroke="#000" stroke-width="0.9"/>
<line x1="783.4" y1="1295.2" x2="870" y2="1295.2" stroke="#000" stroke-width="0.9"/>
<line x1="868.6" y1="885" x2="868.6" y2="1296" stroke="#000" stroke-width="0.8"/>
<line x1="870.4" y1="885" x2="870.4" y2="1296" stroke="#000" stroke-width="1.8"/>
<rect x="870.5" y="1295.2" width="15.8" height="2.6" rx="0" fill="#000" stroke="none" stroke-width="0"/>
<rect x="746.4" y="1298.4" width="15.6" height="6.6" rx="0" fill="none" stroke="#000" stroke-width="0.9"/>
<rect x="869.8" y="1298.4" width="15.6" height="6.6" rx="0" fill="none" stroke="#000" stroke-width="0.9"/>
<line x1="889" y1="892.8" x2="938.8" y2="892.8" stroke="#000" stroke-width="2.0"/>
<line x1="889" y1="892" x2="889" y2="1264" stroke="#111" stroke-width="1.1"/>
<line x1="886.6" y1="895.3" x2="886.6" y2="973.4" stroke="#333" stroke-width="2.0"/>
<rect x="885.4" y="1206" width="1.6" height="78" rx="0" fill="#aaa" stroke="#444" stroke-width="0.6"/>
<line x1="938" y1="892" x2="938" y2="949.5" stroke="#000" stroke-width="2.2"/>
<rect x="936.9" y="949.5" width="2.2" height="6" rx="0" fill="#999" stroke="none" stroke-width="0"/>
<line x1="938" y1="955" x2="938" y2="1288" stroke="#000" stroke-width="0.9"/>
<line x1="939.8" y1="955" x2="939.8" y2="1288" stroke="#000" stroke-width="0.9"/>
<line x1="889" y1="1263.9" x2="938" y2="1263.9" stroke="#000" stroke-width="1.1"/>
<line x1="889" y1="1266" x2="938" y2="1266" stroke="#000" stroke-width="0.9"/>
<line x1="893" y1="1267.8" x2="932" y2="1267.8" stroke="#444" stroke-width="1.3"/>
<path d="M887 1266 V1287.8 H939.3" fill="none" stroke="#777" stroke-width="0.8"/>
<path d="M900.6 891.8 L901.6 882.3 H922.8 L923.8 891.8" fill="none" stroke="#000" stroke-width="1.0"/>
<line x1="899.5" y1="891.2" x2="925" y2="891.2" stroke="#000" stroke-width="0.9"/>
<rect x="930.6" y="885.3" width="5.6" height="7.3" rx="1" fill="none" stroke="#000" stroke-width="0.9"/>
<rect x="892" y="889.2" width="2.6" height="3.4" rx="0" fill="none" stroke="#000" stroke-width="0.8"/>
<circle cx="892.7" cy="928" r="2.1" fill="#555" stroke="#000" stroke-width="1.2"/>
<circle cx="924.2" cy="923.5" r="2.1" fill="#555" stroke="#000" stroke-width="1.2"/>
<line x1="938.5" y1="924.3" x2="958.5" y2="924.3" stroke="#333" stroke-width="0.9"/>
<line x1="938.5" y1="977.1" x2="958.5" y2="977.1" stroke="#333" stroke-width="0.9"/>
<line x1="958.7" y1="922.2" x2="958.7" y2="978.5" stroke="#000" stroke-width="2.2"/>
<rect x="940.6" y="1043.4" width="12.5" height="6.6" rx="0" fill="none" stroke="#000" stroke-width="0.9"/>
<rect x="939.6" y="1039.6" width="2.6" height="3" rx="0" fill="#555" stroke="#000" stroke-width="0.8"/>
<rect x="939.6" y="1052.6" width="2.6" height="3" rx="0" fill="#555" stroke="#000" stroke-width="0.8"/>
<path d="M940 1165.5 V1161 Q941.8 1158 943.2 1161 V1164.5 H940" fill="none" stroke="#000" stroke-width="0.8"/>
<rect x="940" y="1211.1" width="5.6" height="4.2" rx="0" fill="none" stroke="#000" stroke-width="0.9"/>
<rect x="940" y="1239.3" width="5.6" height="4.4" rx="0" fill="none" stroke="#000" stroke-width="0.9"/>
</svg>
</body></html>
